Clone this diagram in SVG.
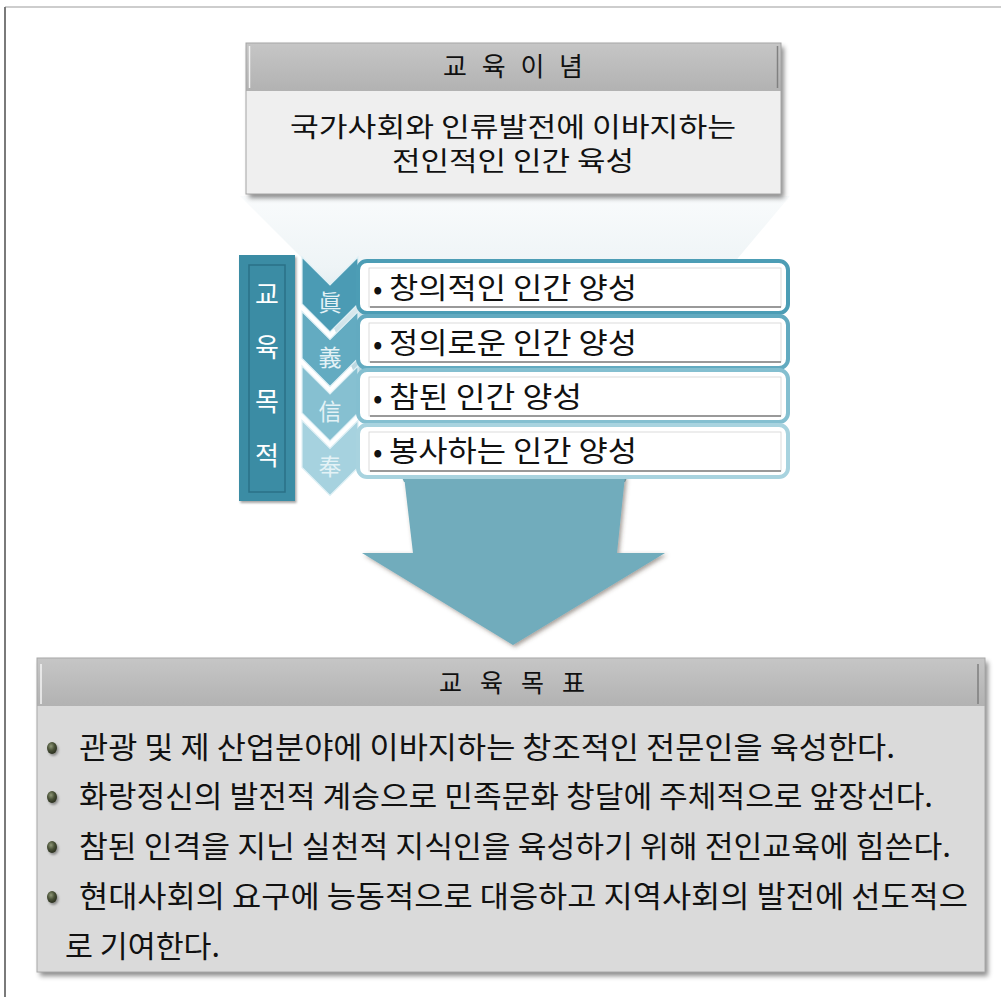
<svg xmlns="http://www.w3.org/2000/svg" width="1001" height="997" viewBox="0 0 1001 997">
<defs>
<style>
.k{font-family:"Noto Sans CJK KR","Noto Sans CJK SC",sans-serif;fill:#111}
.w{font-family:"Noto Sans CJK KR","Noto Sans CJK SC",sans-serif;fill:#fff}
.hz{font-family:"Noto Sans CJK TC","Noto Sans CJK KR",serif;fill:#e4f2f6;font-size:23px;text-anchor:middle}
.rowo{fill:#fff;stroke-width:4}
.rowi{fill:#fff;stroke:#d2d2d2;stroke-width:0.8}
.rowl{stroke:#7d7d7d;stroke-width:1.6}
.chev{stroke:#dff0f5;stroke-width:1.2}
</style>
<linearGradient id="hdr" x1="0" y1="0" x2="0" y2="1">
<stop offset="0" stop-color="#c6c6c6"/><stop offset="1" stop-color="#b2b2b2"/>
</linearGradient>
<linearGradient id="fun" gradientUnits="userSpaceOnUse" x1="0" y1="196" x2="0" y2="482">
<stop offset="0" stop-color="#f9fbfc"/><stop offset="0.25" stop-color="#eef4f6"/><stop offset="0.6" stop-color="#bcd8e1"/><stop offset="1" stop-color="#71acbc"/>
</linearGradient>
<radialGradient id="ball" cx="0.4" cy="0.35" r="0.7">
<stop offset="0" stop-color="#8f9878"/><stop offset="0.5" stop-color="#4a5238"/><stop offset="1" stop-color="#262b1c"/>
</radialGradient>
<filter id="sh" x="-5%" y="-5%" width="115%" height="120%">
<feDropShadow dx="3" dy="4" stdDeviation="2.5" flood-color="#000" flood-opacity="0.45"/>
</filter>
<filter id="sha" x="-10%" y="-10%" width="120%" height="125%">
<feDropShadow dx="2" dy="2" stdDeviation="2" flood-color="#4a3a30" flood-opacity="0.5"/>
</filter>
<filter id="shb" x="-50%" y="-50%" width="200%" height="200%">
<feDropShadow dx="1.5" dy="2" stdDeviation="1.2" flood-color="#000" flood-opacity="0.35"/>
</filter>
</defs>
<rect width="1001" height="997" fill="#fff"/>
<g id="frame">
<line x1="5" y1="7" x2="1001" y2="7" stroke="#bdbdbd" stroke-width="1.5"/>
<line x1="5" y1="7" x2="5" y2="997" stroke="#7a7a7a" stroke-width="2"/>
</g>
<g id="connectors">
<path d="M240,196 L790,196 L738,258 L625,482 L404,482 L302,258 Z" fill="url(#fun)"/>
<path d="M404,476 L625,476 L617,553 L665,553 L513,645 L362,553 L413,553 Z" fill="#71acbc" filter="url(#sha)"/>
</g>
<g id="node-philosophy">
<g filter="url(#sh)">
<rect x="246" y="91" width="535" height="103" fill="#efefef"/>
<rect x="246" y="43" width="535" height="48" fill="url(#hdr)"/>
</g>
<rect x="246" y="43" width="535" height="151" fill="none" stroke="#a5a5a5" stroke-width="1"/>
<line x1="249.5" y1="46" x2="249.5" y2="88" stroke="#f2f2f2" stroke-width="1.5"/>
<line x1="777.5" y1="46" x2="777.5" y2="88" stroke="#808080" stroke-width="1.5"/>
<text class="k" x="443" y="76" font-size="26" textLength="140" lengthAdjust="spacing">교 육 이 념</text>
<text class="k" x="290" y="137" font-size="27" textLength="446" lengthAdjust="spacingAndGlyphs">국가사회와 인류발전에 이바지하는</text>
<text class="k" x="392" y="171" font-size="27" textLength="242" lengthAdjust="spacingAndGlyphs">전인적인 인간 육성</text>
</g>
<g id="node-purpose">
<rect x="239" y="255" width="56" height="246" fill="#3b8ca4" filter="url(#shb)"/>
<rect x="249" y="265" width="36" height="227" fill="none" stroke="#2b7087" stroke-width="1.5"/>
<text class="w" x="267" y="304" font-size="26" text-anchor="middle">교</text>
<text class="w" x="267" y="357" font-size="26" text-anchor="middle">육</text>
<text class="w" x="267" y="411" font-size="26" text-anchor="middle">목</text>
<text class="w" x="267" y="465" font-size="26" text-anchor="middle">적</text>
</g>
<g id="node-chevrons">
<path class="chev" d="M302,257 L330,285 L358,257 L358,304 L330,332 L302,304 Z" fill="#4b9bb4"/>
<path class="chev" d="M302,311.5 L330,339.5 L358,311.5 L358,358.5 L330,386.5 L302,358.5 Z" fill="#63abc1"/>
<path class="chev" d="M302,366 L330,394 L358,366 L358,413 L330,441 L302,413 Z" fill="#86c0d1"/>
<path class="chev" d="M302,420.5 L330,448.5 L358,420.5 L358,467.5 L330,495.5 L302,467.5 Z" fill="#a6d2df"/>
<text class="hz" x="330" y="311">眞</text>
<text class="hz" x="330" y="366">義</text>
<text class="hz" x="330" y="420">信</text>
<text class="hz" x="330" y="475">奉</text>
</g>
<g id="node-row1">
<rect class="rowo" x="358" y="261" width="430" height="52" rx="9" stroke="#4c9db5"/>
<rect class="rowi" x="369" y="268" width="412" height="39"/>
<line class="rowl" x1="370" y1="307" x2="781" y2="307"/>
<text class="k" x="373" y="299" font-size="28">•</text>
<text class="k" x="389" y="299" font-size="29" textLength="248" lengthAdjust="spacingAndGlyphs">창의적인 인간 양성</text>
</g>
<g id="node-row2">
<rect class="rowo" x="358" y="316" width="430" height="52" rx="9" stroke="#62aac0"/>
<rect class="rowi" x="369" y="323" width="412" height="39"/>
<line class="rowl" x1="370" y1="362" x2="781" y2="362"/>
<text class="k" x="373" y="354" font-size="28">•</text>
<text class="k" x="389" y="354" font-size="29" textLength="248" lengthAdjust="spacingAndGlyphs">정의로운 인간 양성</text>
</g>
<g id="node-row3">
<rect class="rowo" x="358" y="370" width="430" height="52" rx="9" stroke="#84bfd0"/>
<rect class="rowi" x="369" y="377" width="412" height="39"/>
<line class="rowl" x1="370" y1="416" x2="781" y2="416"/>
<text class="k" x="373" y="408" font-size="28">•</text>
<text class="k" x="389" y="408" font-size="29" textLength="193" lengthAdjust="spacingAndGlyphs">참된 인간 양성</text>
</g>
<g id="node-row4">
<rect class="rowo" x="358" y="425" width="430" height="52" rx="9" stroke="#a8d3df"/>
<rect class="rowi" x="369" y="432" width="412" height="39"/>
<line class="rowl" x1="370" y1="471" x2="781" y2="471"/>
<text class="k" x="373" y="462" font-size="28">•</text>
<text class="k" x="389" y="462" font-size="29" textLength="248" lengthAdjust="spacingAndGlyphs">봉사하는 인간 양성</text>
</g>
<g id="node-goals">
<g filter="url(#sh)">
<rect x="37" y="706" width="948" height="266" fill="#dadada"/>
<rect x="37" y="658" width="948" height="48" fill="url(#hdr)"/>
</g>
<rect x="37" y="658" width="948" height="314" fill="none" stroke="#a8a8a8" stroke-width="1"/>
<line x1="41" y1="664" x2="41" y2="704" stroke="#f4f4f4" stroke-width="1.5"/>
<line x1="978" y1="664" x2="978" y2="704" stroke="#7e7e7e" stroke-width="1.5"/>
<text class="k" x="439" y="692" font-size="25" textLength="146" lengthAdjust="spacing">교 육 목 표</text>
<g filter="url(#shb)">
<ellipse cx="52" cy="748" rx="5" ry="6" fill="url(#ball)"/>
<ellipse cx="52" cy="797" rx="5" ry="6" fill="url(#ball)"/>
<ellipse cx="52" cy="847" rx="5" ry="6" fill="url(#ball)"/>
<ellipse cx="52" cy="897" rx="5" ry="6" fill="url(#ball)"/>
</g>
<text class="k" x="79" y="758" font-size="30" textLength="816" lengthAdjust="spacingAndGlyphs">관광 및 제 산업분야에 이바지하는 창조적인 전문인을 육성한다.</text>
<text class="k" x="79" y="807" font-size="30" textLength="854" lengthAdjust="spacingAndGlyphs">화랑정신의 발전적 계승으로 민족문화 창달에 주체적으로 앞장선다.</text>
<text class="k" x="79" y="857" font-size="30" textLength="872" lengthAdjust="spacingAndGlyphs">참된 인격을 지닌 실천적 지식인을 육성하기 위해 전인교육에 힘쓴다.</text>
<text class="k" x="79" y="907" font-size="30" textLength="889" lengthAdjust="spacingAndGlyphs">현대사회의 요구에 능동적으로 대응하고 지역사회의 발전에 선도적으</text>
<text class="k" x="65" y="957" font-size="30" textLength="155" lengthAdjust="spacingAndGlyphs">로 기여한다.</text>
</g>
</svg>
